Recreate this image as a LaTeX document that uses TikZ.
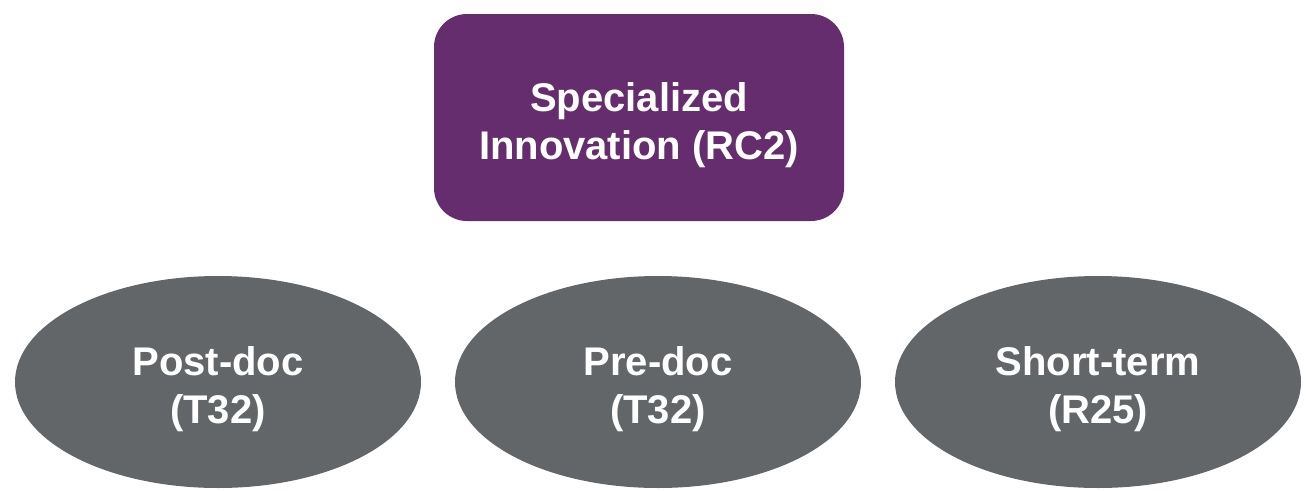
\documentclass[tikz,border=0pt]{standalone}
\usepackage{fontspec}
\setmainfont{Liberation Sans}
\usetikzlibrary{shapes.geometric}
\definecolor{boxpurple}{HTML}{662D6E}
\definecolor{ovalgray}{HTML}{636669}
\newcommand{\lowstrut}{\rule{0pt}{44pt}}
\begin{document}
\begin{tikzpicture}[x=1pt,y=-1pt,
  topbox/.style={fill=boxpurple, draw=none, rounded corners=33pt, minimum width=410pt, minimum height=207pt, inner sep=0pt, text=white, font=\fontsize{40}{48}\selectfont\bfseries, align=center},
  oval/.style={ellipse, fill=ovalgray, draw=none, minimum width=406pt, minimum height=212pt, inner sep=0pt, text=white, font=\fontsize{40}{48}\selectfont\bfseries, align=center}]
\useasboundingbox (0,0) rectangle (1306,490);
\node[topbox] (top) at (639,117.5) {\lowstrut Specialized\\Innovation (RC2)};
\node[oval] (post) at (218,382) {\lowstrut Post-doc\\(T32)};
\node[oval] (pre) at (658,382) {\lowstrut Pre-doc\\(T32)};
\node[oval] (short) at (1098,382) {\lowstrut Short-term\\(R25)};
\end{tikzpicture}
\end{document}
